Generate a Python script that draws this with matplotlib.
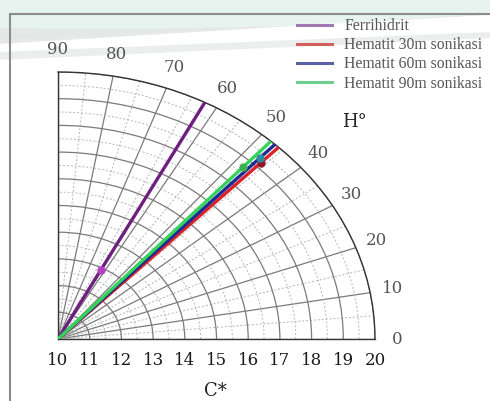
import matplotlib.pyplot as plt
import numpy as np

# hue angle (deg) and chroma C* for each sample
samples = ['Ferrihidrit', 'Hematit 30m sonikasi', 'Hematit 60m sonikasi', 'Hematit 90m sonikasi']
hue = [62.4, 45.9, 46.8, 47.8]
chroma = [12.9, 19.2, 19.3, 18.7]
line_colors = ['#6e1f7e', '#d8232a', '#1c2b96', '#35d35a']
marker_colors = ['#b440c4', '#8a1a2c', '#2f8aa6', '#3cb054']
legend_colors = ['#a07ab2', '#d0605c', '#5b62a4', '#6ccf8c']

r_ticks = np.arange(10, 21, 1)
theta_ticks = np.arange(0, 91, 10)

fig = plt.figure(figsize=(4.9, 4.01), dpi=100)

# page background with the pale swoosh
bg = fig.add_axes([0, 0, 1, 1], zorder=-5)
bg.set_xlim(0, 490)
bg.set_ylim(401, 0)
bg.axis('off')
xs = np.linspace(0, 490, 100)
bg.fill_between(xs, 0, 40 - 25 * xs / 490, color='#e7f3ef', lw=0)
bg.fill_between(xs, 28 - 14 * xs / 490 + 6 * np.sin(xs / 160), 44 - 30 * xs / 490,
                color='#e2e4e3', lw=0, alpha=0.8)
bg.fill_between(xs, 52 - 20 * xs / 490, 60 - 22 * xs / 490, color='#eceeed', lw=0)
bg.plot([10, 10], [14, 401], color='#8c8c8c', lw=1.5)
bg.plot([10, 490], [14, 14], color='#8c8c8c', lw=1.5)

ax = fig.add_axes([58 / 490, 62 / 401, 317 / 490, 267 / 401], projection='polar')
ax.set_facecolor('white')
ax.set_thetamin(0)
ax.set_thetamax(90)
ax.set_rlim(10, 20)
ax.set_aspect('auto')

ax.set_xticks(np.deg2rad(theta_ticks))
ax.set_xticklabels([str(t) for t in theta_ticks])
ax.set_xticks(np.deg2rad(np.arange(5, 90, 10)), minor=True)
ax.set_yticks(r_ticks)
ax.set_yticklabels([str(r) for r in r_ticks])
ax.set_yticks(np.arange(10.5, 20, 1), minor=True)
ax.tick_params(axis='x', which='both', direction='in', length=5, color='#333333', pad=9,
               labelfontfamily='DejaVu Serif', labelsize=12, labelcolor='#555555')
ax.tick_params(axis='y', pad=6, labelfontfamily='DejaVu Serif', labelsize=12,
               labelcolor='#1a1a1a')
ax.grid(True, which='major', color='#7a7a7a', lw=0.9, ls='-')
ax.grid(True, which='minor', color='#b5b5b5', lw=0.7, ls=(0, (2, 2)))
for s in ax.spines.values():
    s.set_color('#333333')
    s.set_linewidth(1.0)

for h, c, lc, mc, name in zip(hue, chroma, line_colors, marker_colors, samples):
    t = np.deg2rad(h)
    ax.plot([t, t], [10, 20], color=lc, lw=2.4, label=name, zorder=3)
    ax.plot([t], [c], 'o', color=mc, ms=5, zorder=4)

handles = [plt.Line2D([], [], color=c, lw=2.2) for c in legend_colors]
fig.legend(handles, samples, loc='upper left', bbox_to_anchor=(283 / 490, 1 - 4 / 401),
           frameon=False, handlelength=2.2, labelspacing=0.2, handletextpad=0.8,
           prop={'family': 'Liberation Serif', 'size': 11.3}, labelcolor='#555555')

fig.text(354 / 490, 1 - 122 / 401, 'H°', fontfamily='DejaVu Serif', fontsize=13,
         color='#222222', ha='center', va='center')
fig.text(215 / 490, 1 - 391 / 401, 'C*', fontfamily='DejaVu Serif', fontsize=13,
         color='#222222', ha='center', va='center')

fig.savefig('out.png', dpi=100)
